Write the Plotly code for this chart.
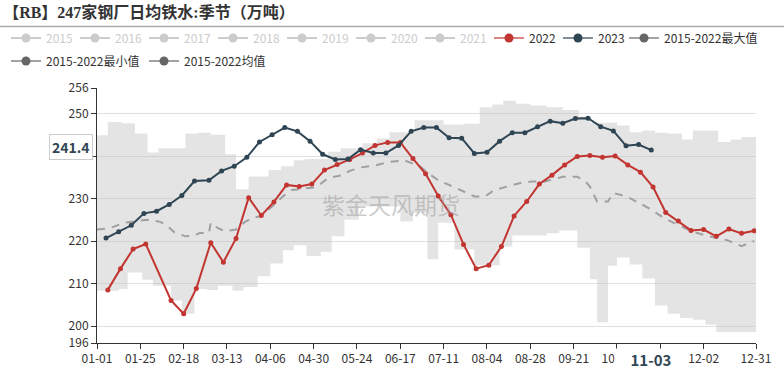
import plotly.graph_objects as go

YEAR = "2024"  # leap-year calendar used only to place month-day values on the axis

# ---- 2022 weekly values ----
dates_2022 = ["01-07","01-14","01-21","01-28","02-11","02-18","02-25","03-04","03-11","03-18",
              "03-25","04-01","04-08","04-15","04-22","04-29","05-06","05-13","05-20","05-27",
              "06-03","06-10","06-17","06-24","07-01","07-08","07-15","07-22","07-29","08-05",
              "08-12","08-19","08-26","09-02","09-09","09-16","09-23","09-30","10-07","10-14",
              "10-21","10-28","11-04","11-11","11-18","11-25","12-02","12-09","12-16","12-23","12-30"]
values_2022 = [208.5,213.5,218.1,219.3,206.0,202.9,208.8,219.6,215.0,220.6,
               230.2,226.0,229.2,233.2,232.8,233.4,236.7,238.0,239.2,240.7,
               242.5,243.2,243.2,239.4,235.8,230.6,226.2,219.2,213.5,214.3,
               218.7,225.9,229.3,233.4,235.5,237.9,239.9,240.1,239.7,240.0,
               237.9,236.2,232.7,226.7,224.7,222.5,222.7,221.1,222.8,221.8,222.4]

# ---- 2023 weekly values ----
dates_2023 = ["01-06","01-13","01-20","01-27","02-03","02-10","02-17","02-24","03-03","03-10",
              "03-17","03-24","03-31","04-07","04-14","04-21","04-28","05-05","05-12","05-19",
              "05-26","06-02","06-09","06-16","06-23","06-30","07-07","07-14","07-21","07-28",
              "08-04","08-11","08-18","08-25","09-01","09-08","09-15","09-22","09-29","10-06",
              "10-13","10-20","10-27","11-03"]
values_2023 = [220.7,222.2,223.7,226.5,227.0,228.6,230.7,234.1,234.3,236.5,
               237.6,239.7,243.3,245.0,246.7,245.8,243.5,240.4,239.2,239.3,
               241.5,240.7,240.7,242.5,245.8,246.7,246.7,244.3,244.2,240.6,
               240.9,243.5,245.5,245.5,246.9,248.2,247.7,248.8,248.9,246.9,
               245.9,242.4,242.7,241.4]

# ---- 2015-2022 max (step) ----
max_dates = ["01-01","01-07","01-15","01-22","01-29","02-04","02-19","02-26","03-04","03-12",
             "03-18","03-25","04-05","04-12","04-19","04-25","05-08","05-15","05-27","06-04",
             "06-11","06-25","07-11","07-22","07-31","08-07","08-13","08-20","08-28","09-06",
             "09-15","09-24","09-30","10-15","10-22","10-29","11-05","11-12","11-20","11-26",
             "12-10","12-17","12-23","12-31"]
max_values = [244.9,248.0,247.7,245.3,240.8,241.8,245.3,245.5,245.0,240.4,
              232.2,235.2,236.7,237.6,239.0,239.3,241.0,241.8,243.0,244.1,
              245.6,248.4,247.4,247.6,251.5,252.1,253.0,252.3,251.9,251.5,
              250.8,249.3,247.8,247.2,245.6,246.0,245.5,245.3,243.9,246.0,
              243.3,243.9,244.5,244.5]

# ---- 2015-2022 min (step) ----
min_dates = ["01-01","01-13","01-18","01-26","02-01","02-11","02-17","02-24","03-02","03-08",
             "03-16","03-22","03-30","04-06","04-13","04-19","04-26","05-04","05-10","05-17",
             "05-25","06-17","06-24","07-02","07-08","07-17","07-28","08-11","08-18","09-06",
             "09-13","09-23","09-30","10-04","10-10","10-15","10-22","10-29","11-05","11-12",
             "11-19","11-26","12-03","12-09","12-31"]
min_values = [208.3,208.7,212.6,210.9,209.5,206.0,202.9,208.7,208.5,209.5,
              208.3,209.2,211.7,214.7,217.8,219.0,216.5,217.5,221.1,225.0,
              228.1,224.6,226.6,215.7,224.3,218.0,214.3,218.7,221.3,221.8,
              222.5,218.4,211.0,200.9,214.2,216.1,214.5,211.2,204.8,202.9,
              201.9,201.5,200.3,198.6,198.8]

# ---- 2015-2022 mean ----
mean_dates = ["01-01","01-08","01-16","01-22","01-29","02-05","02-08","02-13","02-19","02-24",
              "02-27","03-03","03-04","03-08","03-12","03-18","03-23","03-27","03-31","04-07",
              "04-13","04-18","04-25","04-30","05-04","05-08","05-16","05-20","05-26","06-04",
              "06-11","06-19","06-24","06-28","07-04","07-08","07-14","07-21","07-28","08-03",
              "08-08","08-15","08-22","08-29","09-05","09-15","09-23","09-27","09-30","10-04",
              "10-10","10-13","10-20","10-28","11-03","11-10","11-17","11-25","12-05","12-15",
              "12-23","12-30"]
mean_values = [222.7,223.0,224.3,224.6,225.0,224.5,223.9,222.0,221.1,221.3,
               221.9,221.9,224.3,223.0,222.3,222.7,224.5,225.4,225.8,228.1,
               230.5,232.0,232.4,232.6,233.5,234.8,235.5,236.5,237.3,237.9,
               238.6,239.0,238.2,237.5,235.5,234.3,233.2,231.8,230.5,230.5,
               232.0,232.8,233.6,234.0,234.0,235.1,235.1,234.3,232.8,229.3,
               229.3,231.3,230.5,228.8,227.4,225.4,223.9,222.3,221.1,220.2,
               218.8,220.0]

# ---- axis ticks ----
x_tick_dates = ["01-01","01-25","02-18","03-13","04-06","04-30","05-24","06-17","07-11",
                "08-04","08-28","09-21","10-15","11-08","12-02","12-31"]
y_tick_values = [196, 200, 210, 220, 230, 240, 250, 256]

hidden_years = ["2015","2016","2017","2018","2019","2020","2021"]

RED = "#c23531"
NAVY = "#2f4554"
GREY = "#666666"


def d(lst):
    return [f"{YEAR}-{m}" for m in lst]


fig = go.Figure()

# band: min (invisible) then max filled to it
fig.add_trace(go.Scatter(x=d(min_dates), y=min_values, mode="lines", line=dict(width=0, color="rgba(0,0,0,0)", shape="hv"),
                         showlegend=False, hoverinfo="skip"))
fig.add_trace(go.Scatter(x=d(max_dates), y=max_values, mode="lines", line=dict(width=0, color="rgba(0,0,0,0)", shape="hv"),
                         fill="tonexty", fillcolor="rgba(190,190,190,0.42)", showlegend=False, hoverinfo="skip"))
# mean
fig.add_trace(go.Scatter(x=d(mean_dates), y=mean_values, mode="lines",
                         line=dict(color="#a0a0a0", width=2, dash="8px,7px"), showlegend=False))
# 2022 / 2023
fig.add_trace(go.Scatter(x=d(dates_2022), y=values_2022, mode="lines+markers",
                         line=dict(color=RED, width=2), marker=dict(size=5, color=RED), showlegend=False))
fig.add_trace(go.Scatter(x=d(dates_2023), y=values_2023, mode="lines+markers",
                         line=dict(color=NAVY, width=2), marker=dict(size=5, color=NAVY), showlegend=False))

# legend entries (row 1: years)
for yr in hidden_years:
    fig.add_trace(go.Scatter(x=[None], y=[None], mode="lines+markers",
                             name=f"<span style='color:#cccccc'>{yr}</span>",
                             line=dict(color="#cccccc", width=2), marker=dict(size=9, color="#cccccc"),
                             legend="legend", legendwidth=24))
fig.add_trace(go.Scatter(x=[None], y=[None], mode="lines+markers", name="2022",
                         line=dict(color="rgba(194,53,49,0.6)", width=2), marker=dict(size=9, color=RED),
                         legend="legend", legendwidth=24))
fig.add_trace(go.Scatter(x=[None], y=[None], mode="lines+markers", name="2023",
                         line=dict(color="rgba(47,69,84,0.6)", width=2), marker=dict(size=9, color=NAVY),
                         legend="legend", legendwidth=30))
# row 1, last item
fig.add_trace(go.Scatter(x=[None], y=[None], mode="lines+markers", name="2015-2022最大值",
                         line=dict(color="rgba(102,102,102,0.6)", width=2), marker=dict(size=9, color=GREY),
                         legend="legend3", legendwidth=110))
# legend entries (row 2)
fig.add_trace(go.Scatter(x=[None], y=[None], mode="lines+markers", name="2015-2022最小值",
                         line=dict(color="rgba(102,102,102,0.6)", width=2), marker=dict(size=9, color=GREY),
                         legend="legend2", legendwidth=93))
fig.add_trace(go.Scatter(x=[None], y=[None], mode="lines+markers", name="2015-2022均值",
                         line=dict(color="rgba(102,102,102,0.6)", width=2), marker=dict(size=9, color=GREY),
                         legend="legend2", legendwidth=100))

L, R, T, B = 97, 28, 88, 26
W, H = 784, 369
pw, ph = W - L - R, H - T - B


def px_x(p):
    return (p - L) / pw


def px_y(p):
    return (H - B - p) / ph


FONT = "Noto Sans CJK SC"
legend_common = dict(orientation="h", xanchor="left", yanchor="middle",
                     bgcolor="rgba(0,0,0,0)", traceorder="normal",
                     font=dict(size=12, color="#333333", family=FONT), itemwidth=30, tracegroupgap=0,
                     itemclick=False, itemdoubleclick=False)

fig.update_layout(
    width=W, height=H,
    margin=dict(l=L, r=R, t=T, b=B, autoexpand=False),
    paper_bgcolor="white", plot_bgcolor="white",
    font=dict(family=FONT, size=12, color="#333333"),
    title=dict(text="<b>【RB】247家钢厂日均铁水:季节（万吨）</b>", x=0.004, xanchor="left", xref="container",
               y=1 - 12.5 / H, yanchor="middle",
               font=dict(size=16, family="Liberation Serif, Noto Sans CJK SC", color="#333333")),
    legend=dict(x=px_x(6), y=px_y(38), **legend_common),
    legend3=dict(x=px_x(624), y=px_y(38), **legend_common),
    legend2=dict(x=px_x(6), y=px_y(61), **legend_common),
    xaxis=dict(type="date", range=[f"{YEAR}-01-01", f"{YEAR}-12-31"],
               tickmode="array", tickvals=d(x_tick_dates), ticktext=x_tick_dates,
               showgrid=False, zeroline=False, showline=True, linecolor="#333333", linewidth=1,
               ticks="outside", ticklen=5, tickcolor="#333333",
               tickfont=dict(size=12, color="#333333", family=FONT)),
    yaxis=dict(range=[196, 256], tickmode="array", tickvals=y_tick_values,
               showgrid=True, gridcolor="#e0e0e0", gridwidth=1, zeroline=False,
               showline=True, linecolor="#333333", linewidth=1,
               ticks="outside", ticklen=5, tickcolor="#333333",
               tickfont=dict(size=12, color="#333333", family=FONT)),
    hovermode=False,
)

# title underline
fig.add_shape(type="line", xref="paper", yref="paper", x0=px_x(0), x1=px_x(W), y0=px_y(26.5), y1=px_y(26.5),
              line=dict(color="#aaaaaa", width=1.5))

# watermark
fig.add_annotation(text="紫金天风期货", xref="paper", yref="paper", x=px_x(391), y=px_y(204),
                   showarrow=False, font=dict(size=23, color="rgba(160,160,160,0.55)", family=FONT))

# y axis pointer label
fig.add_annotation(text="<b>241.4</b>", xref="paper", yref="y", x=0, y=values_2023[-1], xanchor="right",
                   xshift=-4, yshift=3, showarrow=False, bgcolor="white", bordercolor="#cccccc", borderwidth=1,
                   borderpad=2, font=dict(size=14, color=NAVY, family=FONT))

# x axis pointer label
fig.add_annotation(text="<b>11-03</b>", xref="x", yref="paper", x=f"{YEAR}-{dates_2023[-1]}", y=0,
                   yanchor="top", yshift=-5, showarrow=False, bgcolor="white", width=70, height=18,
                   font=dict(size=15, color=NAVY, family=FONT))

fig.write_html("out.html", config={"displayModeBar": False},
               post_script="document.body.style.margin='0';")
